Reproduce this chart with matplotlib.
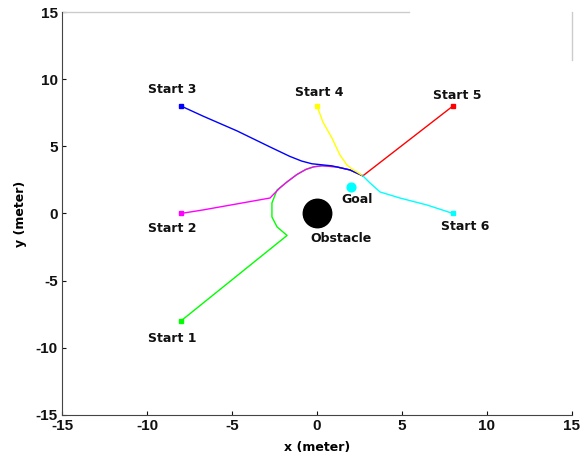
import matplotlib.pyplot as plt
from matplotlib.lines import Line2D

plt.rcParams['axes.unicode_minus'] = False

# start positions
start_x = [-8, -8, -8, 0, 8, 8]
start_y = [-8, 0, 8, 8, 8, 0]
start_names = ["Start 1", "Start 2", "Start 3", "Start 4", "Start 5", "Start 6"]
label_x = [-8.5, -8.5, -8.5, 0.15, 8.25, 8.7]
label_y = [-9.3, -1.1, 9.2, 9.0, 8.8, -0.95]
colors = ["#00ff00", "#ff00ff", "#0000ff", "#ffff00", "#ff0000", "#00ffff"]

# paths
path1_x = [-8, -1.76, -2.35, -2.65, -2.65, -2.35, -1.76, -1.18, -0.65, -0.2, 0.3, 1.18, 1.94, 2.7]
path1_y = [-8, -1.64, -1.0, -0.26, 0.78, 1.75, 2.35, 2.9, 3.28, 3.47, 3.55, 3.46, 3.24, 2.8]
path2_x = [-8, -6.71, -4.71, -2.76, -2.59, -2.18, -1.76, -1.18, -0.65, -0.2, 0.3, 1.18, 1.94, 2.7]
path2_y = [0, 0.26, 0.71, 1.15, 1.38, 1.90, 2.35, 2.9, 3.28, 3.47, 3.55, 3.46, 3.24, 2.8]
path3_x = [-8, -6.71, -4.71, -2.76, -1.6, -0.9, -0.3, 0.3, 0.9, 1.94, 2.7]
path3_y = [8, 7.25, 6.15, 4.95, 4.25, 3.9, 3.7, 3.62, 3.54, 3.24, 2.8]
path4_x = [0, 0.35, 0.88, 1.35, 1.76, 2.06, 2.35, 2.7]
path4_y = [8, 6.81, 5.62, 4.36, 3.61, 3.31, 3.09, 2.8]
path5_x = [8, 2.7]
path5_y = [8, 2.8]
path6_x = [8, 6.47, 4.88, 3.71, 3.12, 2.7]
path6_y = [0, 0.63, 1.15, 1.60, 2.27, 2.8]

paths = [(path1_x, path1_y), (path2_x, path2_y), (path3_x, path3_y),
         (path4_x, path4_y), (path5_x, path5_y), (path6_x, path6_y)]

goal = (2, 2)
obstacle = (0, 0)

fig = plt.figure(figsize=(5.8, 4.62), dpi=100)
ax = fig.add_axes([0.107, 0.102, 0.879, 0.872])

for (px, py), c in zip(paths, colors):
    ax.plot(px, py, color=c, lw=1)

for x, y, c in zip(start_x, start_y, colors):
    ax.plot(x, y, 's', color=c, ms=3.5)

for name, x, y in zip(start_names, label_x, label_y):
    ax.text(x, y, name, ha='center', va='center', fontsize=9, fontweight='bold', color='#111111')

ax.scatter([goal[0]], [goal[1]], s=40, color='#00ffff', zorder=3)
ax.text(2.35, 1.05, "Goal", ha='center', va='center', fontsize=9, fontweight='bold', color='#111111')
ax.scatter([obstacle[0]], [obstacle[1]], s=420, color='black', zorder=3)
ax.text(1.4, -1.85, "Obstacle", ha='center', va='center', fontsize=9, fontweight='bold', color='#111111')

ax.set_xlim(-15, 15)
ax.set_ylim(-15, 15)
ax.set_xticks(range(-15, 16, 5))
ax.set_yticks(range(-15, 16, 5))
ax.tick_params(direction='in', length=3, width=0.8, labelsize=11, colors='#111111', pad=3)
for lab in ax.get_xticklabels() + ax.get_yticklabels():
    lab.set_fontweight('bold')
    lab.set_fontfamily('Liberation Sans')
ax.set_xlabel("x (meter)", fontsize=9, fontweight='bold', labelpad=6)
ax.set_ylabel("y (meter)", fontsize=9, fontweight='bold', labelpad=6)

for s in ['top', 'right']:
    ax.spines[s].set_visible(False)
for s in ['left', 'bottom']:
    ax.spines[s].set_color('#444444')
# partial light-grey frame pieces
ax.add_line(Line2D([0, 0.68], [1, 1], transform=ax.transAxes, color='#cccccc', lw=1, clip_on=False))
ax.add_line(Line2D([1, 1], [0.88, 1], transform=ax.transAxes, color='#cccccc', lw=1, clip_on=False))

fig.savefig("out.png", dpi=100)
